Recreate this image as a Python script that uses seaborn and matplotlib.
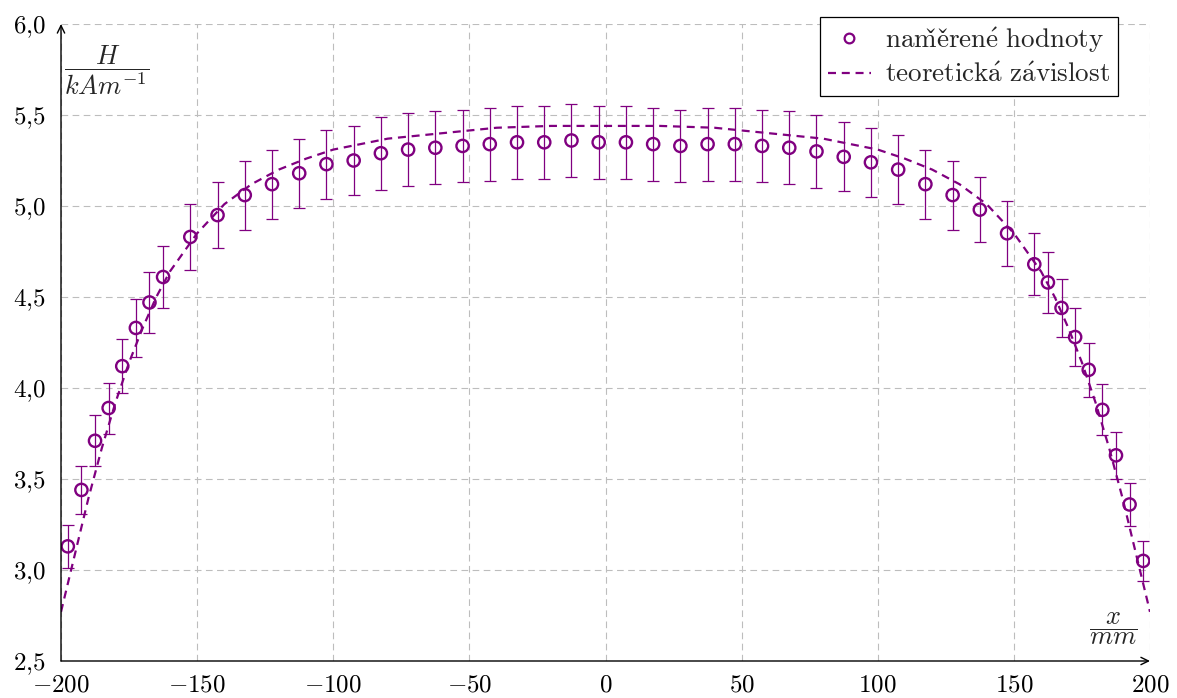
import numpy as np
import pandas as pd
import seaborn as sns
import matplotlib.pyplot as plt
from matplotlib.lines import Line2D

PURPLE = '#800080'

# measured points (x in mm, H in kA/m) with absolute errors
x_meas = [-197.5, -192.5, -187.5, -182.5, -177.5, -172.5, -167.5, -162.5,
          -152.5, -142.5, -132.5, -122.5, -112.5, -102.5, -92.5, -82.5,
          -72.5, -62.5, -52.5, -42.5, -32.5, -22.5, -12.5, -2.5,
          7.5, 17.5, 27.5, 37.5, 47.5, 57.5, 67.5, 77.5,
          87.5, 97.5, 107.5, 117.5, 127.5, 137.5, 147.5,
          157.5, 162.5, 167.5, 172.5, 177.5, 182.5, 187.5, 192.5, 197.5]
h_meas = [3.13, 3.44, 3.71, 3.89, 4.12, 4.33, 4.47, 4.61,
          4.83, 4.95, 5.06, 5.12, 5.18, 5.23, 5.25, 5.29,
          5.31, 5.32, 5.33, 5.34, 5.35, 5.35, 5.36, 5.35,
          5.35, 5.34, 5.33, 5.34, 5.34, 5.33, 5.32, 5.30,
          5.27, 5.24, 5.20, 5.12, 5.06, 4.98, 4.85,
          4.68, 4.58, 4.44, 4.28, 4.10, 3.88, 3.63, 3.36, 3.05]
h_err = [0.12, 0.13, 0.14, 0.14, 0.15, 0.16, 0.17, 0.17,
         0.18, 0.18, 0.19, 0.19, 0.19, 0.19, 0.19, 0.20,
         0.20, 0.20, 0.20, 0.20, 0.20, 0.20, 0.20, 0.20,
         0.20, 0.20, 0.20, 0.20, 0.20, 0.20, 0.20, 0.20,
         0.19, 0.19, 0.19, 0.19, 0.19, 0.18, 0.18,
         0.17, 0.17, 0.16, 0.16, 0.15, 0.14, 0.13, 0.12, 0.11]

# theoretical curve
x_theo = [-200, -195, -190, -185, -180, -175, -170, -165, -160, -150,
          -140, -130, -120, -110, -100, -80, -60, -40, -20, 0,
          20, 40, 60, 80, 100, 110, 120, 130, 140, 150,
          160, 165, 170, 175, 180, 185, 190, 195, 200]
h_theo = [2.77, 3.08, 3.39, 3.67, 3.92, 4.14, 4.33, 4.50, 4.64, 4.85,
          5.01, 5.12, 5.20, 5.26, 5.31, 5.37, 5.40, 5.43, 5.44, 5.44,
          5.44, 5.43, 5.40, 5.37, 5.31, 5.26, 5.20, 5.12, 5.01, 4.85,
          4.64, 4.50, 4.33, 4.14, 3.92, 3.67, 3.39, 3.08, 2.77]

x_ticks = [-200, -150, -100, -50, 0, 50, 100, 150, 200]
y_ticks = [2.5, 3.0, 3.5, 4.0, 4.5, 5.0, 5.5, 6.0]
y_tick_labels = ['2,5', '3,0', '3,5', '4,0', '4,5', '5,0', '5,5', '6,0']

sns.set_theme(style='white')
plt.rcParams['mathtext.fontset'] = 'cm'
plt.rcParams['font.family'] = ['DejaVu Serif']

meas = pd.DataFrame({'x': x_meas, 'H': h_meas, 'err': h_err})
theo = pd.DataFrame({'x': x_theo, 'H': h_theo})

fig, ax = plt.subplots(figsize=(11.77, 6.98), dpi=100)
fig.subplots_adjust(left=61 / 1177, right=1150 / 1177, top=1 - 24 / 698, bottom=1 - 661 / 698)

ax.set_xlim(-200, 200)
ax.set_ylim(2.5, 6.0)
ax.set_xticks(x_ticks)
ax.set_xticklabels([r'$%d$' % v for v in x_ticks])
ax.set_yticks(y_ticks)
ax.set_yticklabels([r'$%s$' % s.replace(',', '{,}') for s in y_tick_labels])
ax.tick_params(axis='both', length=0, labelsize=18, colors='black')
ax.tick_params(axis='x', pad=9)
ax.tick_params(axis='y', pad=11)

ax.grid(True, color='#bdbdbd', linestyle=(0, (6, 4)), linewidth=0.8)
ax.set_axisbelow(True)
for s in ax.spines.values():
    s.set_visible(False)

DASH = (0, (3.6, 2.6))

# error bars
ax.errorbar(meas['x'], meas['H'], yerr=meas['err'], fmt='none', ecolor=PURPLE,
            elinewidth=0.9, capsize=4, capthick=0.9, zorder=3)

sns.lineplot(data=theo, x='x', y='H', ax=ax, color=PURPLE, linewidth=1.6,
             linestyle=DASH, zorder=4)
sns.scatterplot(data=meas, x='x', y='H', ax=ax, marker='o', s=78,
                facecolor='none', edgecolor=PURPLE, linewidth=1.7, zorder=5)

ax.set_xlabel('')
ax.set_ylabel('')

# axis lines with arrows
arrow_kw = dict(arrowstyle='->,head_length=0.45,head_width=0.22', lw=1.0, color='black',
                shrinkA=0, shrinkB=0)
ax.annotate('', xy=(0, 1), xytext=(0, 0), xycoords='axes fraction', arrowprops=arrow_kw,
            annotation_clip=False, zorder=6)
ax.annotate('', xy=(1, 0), xytext=(0, 0), xycoords='axes fraction', arrowprops=arrow_kw,
            annotation_clip=False, zorder=6)

# axis labels as fractions
ax.text(107 / 1177, 1 - 70 / 698, r'$\dfrac{H}{kAm^{-1}}$', transform=fig.transFigure,
        ha='center', va='center', fontsize=19)
ax.text(1113 / 1177, 1 - 629 / 698, r'$\dfrac{x}{mm}$', transform=fig.transFigure,
        ha='center', va='center', fontsize=19)

handles = [
    Line2D([], [], marker='o', linestyle='none', markerfacecolor='none',
           markeredgecolor=PURPLE, markeredgewidth=1.6, markersize=7),
    Line2D([], [], color=PURPLE, linewidth=1.6, linestyle=DASH),
]
labels = [r'$\mathrm{nam\check{e}\check{r}en\acute{e}\ hodnoty}$',
          r'$\mathrm{teoretick\acute{a}\ z\acute{a}vislost}$']
leg = ax.legend(handles, labels, loc='upper right',
                bbox_to_anchor=(1118 / 1177, 1 - 17 / 698), bbox_transform=fig.transFigure,
                borderaxespad=0, fontsize=19.5, frameon=True, fancybox=False,
                framealpha=1, edgecolor='black', handlelength=1.6, handletextpad=0.5,
                borderpad=0.3, labelspacing=0.25)
leg.get_frame().set_linewidth(0.9)

fig.savefig('out.png', dpi=100)
